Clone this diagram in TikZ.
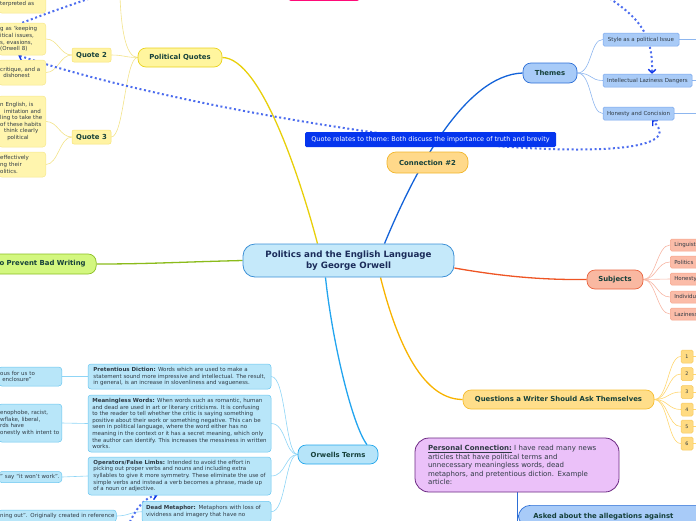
\documentclass[tikz,border=0pt]{standalone}
\usepackage{fontspec}
\setmainfont{DejaVu Sans}
\usetikzlibrary{arrows.meta, calc, positioning, backgrounds}
\definecolor{centralfill}{HTML}{C5E9FA}
\definecolor{centraldraw}{HTML}{3C90D6}
\definecolor{titletext}{HTML}{1B2C5A}
\definecolor{labeltext}{HTML}{15403A}
\definecolor{smalltext}{HTML}{2F3A44}
\definecolor{quotefill}{HTML}{FFF59E}
\definecolor{quotedraw}{HTML}{EAD21C}
\definecolor{quoteleaffill}{HTML}{FFF3A3}
\definecolor{quoteleafdraw}{HTML}{F7E275}
\definecolor{quotenotefill}{HTML}{FFF5AE}
\definecolor{quotenotedraw}{HTML}{F6E78E}
\definecolor{quoteline}{HTML}{E8CF0A}
\definecolor{quotetwig}{HTML}{F3E38A}
\definecolor{themefill}{HTML}{A8CBF8}
\definecolor{themedraw}{HTML}{2D6FD6}
\definecolor{themeline}{HTML}{1463D9}
\definecolor{themeleaffill}{HTML}{A9CBF7}
\definecolor{themeleafdraw}{HTML}{78A6EC}
\definecolor{themetwig}{HTML}{8DB6EF}
\definecolor{connfill}{HTML}{FFD98A}
\definecolor{conndraw}{HTML}{F2B62C}
\definecolor{labelblue}{HTML}{0535EE}
\definecolor{relblue}{HTML}{4D6DEE}
\definecolor{tipblue}{HTML}{0B33E8}
\definecolor{subjfill}{HTML}{F9B8A1}
\definecolor{subjdraw}{HTML}{E9643F}
\definecolor{subjline}{HTML}{EE5524}
\definecolor{subjleaffill}{HTML}{FBBCA8}
\definecolor{subjleafdraw}{HTML}{F6A389}
\definecolor{subjtwig}{HTML}{F7B6A4}
\definecolor{questfill}{HTML}{FFDE8A}
\definecolor{questdraw}{HTML}{F6BD31}
\definecolor{questline}{HTML}{F8B300}
\definecolor{questtwig}{HTML}{FFD670}
\definecolor{numfill}{HTML}{FFDB82}
\definecolor{numdraw}{HTML}{F7C95E}
\definecolor{termfill}{HTML}{B6E4F9}
\definecolor{termdraw}{HTML}{21A6EC}
\definecolor{termline}{HTML}{23A5EF}
\definecolor{termnotefill}{HTML}{B8E6F9}
\definecolor{termnotedraw}{HTML}{69C6F0}
\definecolor{termtwig}{HTML}{8FD5F6}
\definecolor{personalfill}{HTML}{EBC1F9}
\definecolor{personaldraw}{HTML}{6B2882}
\definecolor{preventfill}{HTML}{D3F77F}
\definecolor{preventdraw}{HTML}{8CBF24}
\definecolor{preventline}{HTML}{8BBB1B}
\definecolor{pinkdraw}{HTML}{FF0A78}

\begin{document}
\begin{tikzpicture}[x=1pt, y=-1pt, >={Straight Barb[length=3.5pt,width=7.5pt,line width=1.4pt,color=tipblue]},
    topic/.style={draw, line width=0.8pt, rounded corners=12pt, align=center, inner sep=0pt, text=titletext, font=\fontsize{8.7}{10.6}\selectfont\bfseries},
    branch/.style={draw, line width=0.7pt, rounded corners=8pt, inner sep=0pt, text=labeltext, font=\fontsize{6.9}{8.3}\selectfont\bfseries},
    quotetag/.style={branch, fill=quoteleaffill, draw=quoteleafdraw, line width=0.5pt, rounded corners=2pt, minimum width=39pt, minimum height=14pt},
    leaf/.style={draw, line width=0.5pt, rounded corners=1.5pt, inner sep=0pt, text=smalltext, font=\fontsize{5.5}{6.6}\selectfont},
    themeleaf/.style={leaf, fill=themeleaffill, draw=themeleafdraw, minimum height=13pt},
    subjleaf/.style={leaf, fill=subjleaffill, draw=subjleafdraw, anchor=west, minimum height=12pt, inner xsep=4pt, text width=34pt, align=left},
    numbox/.style={leaf, fill=numfill, draw=numdraw, minimum width=12pt, minimum height=13pt, font=\fontsize{4.8}{5.5}\selectfont},
    note/.style={draw, line width=0.5pt, rounded corners=3pt, inner sep=0pt, align=left, text=smalltext, font=\fontsize{5.5}{6.6}\selectfont},
    quotenote/.style={note, fill=quotenotefill, draw=quotenotedraw, anchor=west, inner xsep=1.5pt, text width=44pt},
    termnote/.style={note, fill=termnotefill, draw=termnotedraw},
    termcut/.style={termnote, anchor=west, inner xsep=1.5pt},
    trunk/.style={line width=1.3pt},
    twig/.style={line width=0.6pt},
    rel/.style={draw=relblue, line width=2pt, dash pattern=on 2pt off 2.6pt}
]
    \useasboundingbox (0,0) rectangle (696,520);
    \clip (0,0) rectangle (696,520);

    % Free ends
    \coordinate (rightedge) at (705,0);
    \coordinate (quotestop) at (120,-4);
    \coordinate (reltop) at (606,-4);
    \coordinate (relqtop) at (100,-5);
    \coordinate (relbottom) at (128,526);

    % Central topic
    \node[topic, fill=centralfill, draw=centraldraw, minimum width=211pt, minimum height=33pt] (central) at (348.5,260.5) {Politics and the English Language\\by George Orwell};

    % Topic cut off at the top
    \node[branch, fill=pinkdraw, draw=pinkdraw, rounded corners=3pt, minimum width=72pt, minimum height=20pt] (pinktopic) at (324,-9.5) {};

    % Political quotes
    \node[branch, fill=quotefill, draw=quotedraw, minimum width=84pt, minimum height=19pt] (quotes) at (180,57.5) {Political Quotes};
    \node[quotetag] (quotetwo) at (91.5,55) {Quote 2};
    \node[quotetag] (quotethree) at (91.5,137) {Quote 3};
    \node[quotenote, minimum height=19pt] (qa) at (-1.5,3.5) {terpreted as};
    \node[quotenote, minimum height=32pt] (qb) at (-1.5,39) {g as \textquoteleft keeping\\itical issues,\\s, evasions,\\(Orwell 8)};
    \node[quotenote, minimum height=25pt] (qc) at (-1.5,72.5) {critique, and a\\\makebox[3pt]{}dishonest};
    \node[quotenote, minimum height=51pt] (qd) at (-1.5,121.5) {n English, is\\\makebox[4pt]{}imitation and\\ling to take the\\of these habits\\\makebox[4pt]{}think clearly\\\makebox[7pt]{}political};
    \node[quotenote, minimum height=25pt] (qe) at (-1.5,164.5) {effectively\\ng their\\olitics.};

    % Themes
    \node[branch, fill=themefill, draw=themedraw, minimum width=54pt, minimum height=20pt] (themes) at (550,73) {Themes};
    \node[themeleaf, minimum width=76pt] (styleissue) at (641,39.5) {Style as a political Issue};
    \node[themeleaf, minimum width=89pt] (laziness) at (647.5,80.5) {Intellectual Laziness Dangers};
    \node[themeleaf, minimum width=71pt] (honesty) at (638.5,113.5) {Honesty and Concision};

    % Connection
    \node[branch, fill=connfill, draw=conndraw, rounded corners=9pt, minimum width=81pt, minimum height=21pt] (conntwo) at (427.5,162.5) {Connection \#2};
    \node[fill=labelblue, text=white, rounded corners=1.5pt, inner sep=0pt, minimum width=251pt, minimum height=15pt, font=\fontsize{6.5}{7.5}\selectfont] (rellabel) at (430.5,139.5) {Quote relates to theme:\ Both discuss the importance of truth and brevity};

    % Subjects
    \node[branch, fill=subjfill, draw=subjdraw, minimum width=56pt, minimum height=19pt] (subjects) at (615,279.5) {Subjects};
    \node[subjleaf] (sling) at (670,245) {Linguistics};
    \node[subjleaf] (spol) at (670,262) {Politics};
    \node[subjleaf] (shon) at (670,279) {Honesty};
    \node[subjleaf] (sind) at (670,297) {Individuality};
    \node[subjleaf] (slaz) at (670,314) {Laziness};

    % Questions
    \node[branch, fill=questfill, draw=questdraw, minimum width=191pt, minimum height=19pt] (questions) at (558.5,399.5) {Questions a Writer Should Ask Themselves};
    \node[numbox] (askone) at (687,356.5) {1};
    \node[numbox] (asktwo) at (687,374) {2};
    \node[numbox] (askthree) at (687,392) {3};
    \node[numbox] (askfour) at (687,409.5) {4};
    \node[numbox] (askfive) at (687,426.5) {5};
    \node[numbox] (asksix) at (687,443.5) {6};

    % Orwell's terms
    \node[branch, fill=termfill, draw=termdraw, minimum width=80pt, minimum height=19pt] (terms) at (338,454.5) {Orwells Terms};
    \node[termnote, minimum width=183pt, minimum height=25pt] (pretentious) at (179.5,376.5) {\textbf{Pretentious Diction:} Words which are used to make a\\statement sound more impressive and intellectual. The result,\\in general, is an increase in slovenliness and vagueness.};
    \node[termnote, minimum width=183pt, minimum height=57pt] (meaningless) at (179.5,423.5) {\textbf{Meaningless Words:} When words such as romantic, human\\and dead are used in art or literary criticisms. It is confusing\\to the reader to tell whether the critic is saying something\\positive about their work or something negative. This can be\\seen in political language, where the word either has no\\meaning in the context or it has a secret meaning, which only\\the author can identify. This increases the messiness in written\\works.};
    \node[termnote, minimum width=183pt, minimum height=38pt] (operators) at (179.5,476) {\textbf{Operators/False Limbs:} Intended to avoid the effort in\\picking out proper verbs and nouns and including extra\\syllables to give it more symmetry. These eliminate the use of\\simple verbs and instead a verb becomes a phrase, made up\\of a noun or adjective.};
    \node[termnote, anchor=north, text width=121pt, inner xsep=4pt, inner ysep=4.5pt] (deadmeta) at (206.5,501) {\textbf{Dead Metaphor:} Metaphors with loss of\\vividness and imagery that have no};
    \node[termcut, text width=60pt, minimum height=19pt] (tpre) at (-1.5,376.5) {ous for us to\\\makebox[2pt]{}enclosure”};
    \node[termcut, text width=60pt, minimum height=38pt] (tmean) at (-1.5,423) {enophobe, racist,\\wflake, liberal,\\rds have\\onestly with intent to};
    \node[termcut, text width=60pt, minimum height=11pt] (toper) at (-1.5,477) {” say “it won’t work”.};
    \node[termcut, text width=114.5pt, minimum height=12pt] (tdead) at (-1.5,516) {ning out”. Originally created in reference};

    % Personal connection
    \node[note, fill=personalfill, draw=personaldraw, line width=0.8pt, rounded corners=14pt, text width=178pt, inner xsep=13pt, minimum height=54pt, font=\fontsize{7}{8.4}\selectfont] (personal) at (517,465) {\underline{\textbf{Personal Connection:}} I have read many news\\articles that have political terms and\\unnecessary meaningless words, dead\\metaphors, and pretentious diction. Example\\article:};
    \node[branch, anchor=north west, fill=themefill, draw=themedraw, rounded corners=12pt, text width=170pt, align=left, inner xsep=15pt, inner ysep=7.5pt] (asked) at (518,505) {Asked about the allegations against};

    % Bad writing
    \node[branch, anchor=east, fill=preventfill, draw=preventdraw, inner xsep=10.5pt, minimum height=20pt] (prevent) at (96.5,264) {to Prevent Bad Writing};

    \begin{scope}[on background layer]
        % Main branches
        \draw[trunk, quoteline] ([xshift=-31pt]central.north) .. controls (302,185) and (262,58) .. (quotes.east);
        \draw[trunk, themeline] ([xshift=36pt]central.north) .. controls (415,170) and (465,75) .. (themes.west);
        \draw[trunk, subjline] ([yshift=-7.5pt]central.east) .. controls (500,276) and (540,280) .. (subjects.west);
        \draw[trunk, questline] ([xshift=32pt]central.south) .. controls (395,335) and (420,399.5) .. (questions.west);
        \draw[trunk, termline] ([xshift=-23pt]central.south) .. controls (332,340) and (352,425) .. ([xshift=29pt]terms.north);
        \draw[trunk, preventline] (central.west) .. controls (180,262) and (150,264) .. (prevent.east);

        % Quote twigs
        \draw[twig, quotetwig] (quotes.west) .. controls (125,57.5) and (124,55) .. (quotetwo.east);
        \draw[twig, quotetwig] (quotes.west) .. controls (125,57.5) and (124,137) .. (quotethree.east);
        \draw[twig, quotetwig] (quotes.west) .. controls (125,57.5) and (121,25) .. (quotestop);
        \draw[twig, quotetwig] (quotetwo.west) .. controls (60,55) and (58,39) .. (qb.east);
        \draw[twig, quotetwig] (quotetwo.west) .. controls (60,55) and (58,72.5) .. (qc.east);
        \draw[twig, quotetwig] (quotethree.west) .. controls (60,137) and (58,121.5) .. (qd.east);
        \draw[twig, quotetwig] (quotethree.west) .. controls (60,137) and (58,164.5) .. (qe.east);

        % Theme twigs
        \draw[twig, themetwig] (themes.east) .. controls (592,73) and (590,39.5) .. (styleissue.west);
        \draw[twig, themetwig] (themes.east) .. controls (592,73) and (590,80.5) .. (laziness.west);
        \draw[twig, themetwig] (themes.east) .. controls (592,73) and (590,113.5) .. (honesty.west);
        \draw[twig, themetwig] (styleissue.east) -- (styleissue.east -| rightedge);
        \draw[twig, themetwig] (laziness.east) -- (laziness.east -| rightedge);
        \draw[twig, themetwig] (honesty.east) -- (honesty.east -| rightedge);

        % Subject twigs
        \draw[twig, subjtwig] (subjects.east) .. controls (656,279.5) and (657,245) .. (sling.west);
        \draw[twig, subjtwig] (subjects.east) .. controls (656,279.5) and (657,262) .. (spol.west);
        \draw[twig, subjtwig] (subjects.east) .. controls (656,279.5) and (657,279) .. (shon.west);
        \draw[twig, subjtwig] (subjects.east) .. controls (656,279.5) and (657,297) .. (sind.west);
        \draw[twig, subjtwig] (subjects.east) .. controls (656,279.5) and (657,314) .. (slaz.west);

        % Question twigs
        \draw[twig, questtwig] (questions.east) .. controls (668,399.5) and (668,356.5) .. (askone.west);
        \draw[twig, questtwig] (questions.east) .. controls (668,399.5) and (668,374) .. (asktwo.west);
        \draw[twig, questtwig] (questions.east) .. controls (668,399.5) and (668,392) .. (askthree.west);
        \draw[twig, questtwig] (questions.east) .. controls (668,399.5) and (668,409.5) .. (askfour.west);
        \draw[twig, questtwig] (questions.east) .. controls (668,399.5) and (668,426.5) .. (askfive.west);
        \draw[twig, questtwig] (questions.east) .. controls (668,399.5) and (668,443.5) .. (asksix.west);
        \draw[twig, questtwig] (askone.east) -- (askone.east -| rightedge);
        \draw[twig, questtwig] (asktwo.east) -- (asktwo.east -| rightedge);
        \draw[twig, questtwig] (askthree.east) -- (askthree.east -| rightedge);
        \draw[twig, questtwig] (askfour.east) -- (askfour.east -| rightedge);
        \draw[twig, questtwig] (askfive.east) -- (askfive.east -| rightedge);
        \draw[twig, questtwig] (asksix.east) -- (asksix.east -| rightedge);

        % Term twigs
        \draw[twig, termtwig] (terms.west) .. controls (285,454.5) and (286,376.5) .. (pretentious.east);
        \draw[twig, termtwig] (terms.west) .. controls (285,454.5) and (286,423.5) .. (meaningless.east);
        \draw[twig, termtwig] (terms.west) .. controls (285,454.5) and (286,476) .. (operators.east);
        \draw[twig, termtwig] (terms.west) .. controls (285,454.5) and (286,512) .. (deadmeta.east);
        \draw[twig, termtwig] (pretentious.west) -- (tpre.east);
        \draw[twig, termtwig] (meaningless.west) -- (tmean.east);
        \draw[twig, termtwig] (operators.west) -- (toper.east);
        \draw[twig, termtwig] (deadmeta.west) .. controls (130,512) and (128,516) .. (tdead.east);

        % Personal connection
        \draw[line width=1pt, themedraw] (personal.south) -- (personal.south |- asked.south);

        % Relationships
        \draw[rel, <->] ([xshift=-4pt]qb.south) .. controls (120,90) and (300,125) .. (rellabel.center) .. controls (560,155) and (690,155) .. ([xshift=13.5pt]honesty.south);
        \draw[rel, ->] (reltop) .. controls (640,18) and (653,35) .. ([xshift=4.5pt]laziness.north);
        \draw[rel, ->] (relbottom) .. controls (136,508) and (145,497) .. ([xshift=-22pt]operators.south);
        \draw[rel] (qb.north) .. controls (45,14) and (70,5) .. (relqtop);
    \end{scope}
\end{tikzpicture}
\end{document}
